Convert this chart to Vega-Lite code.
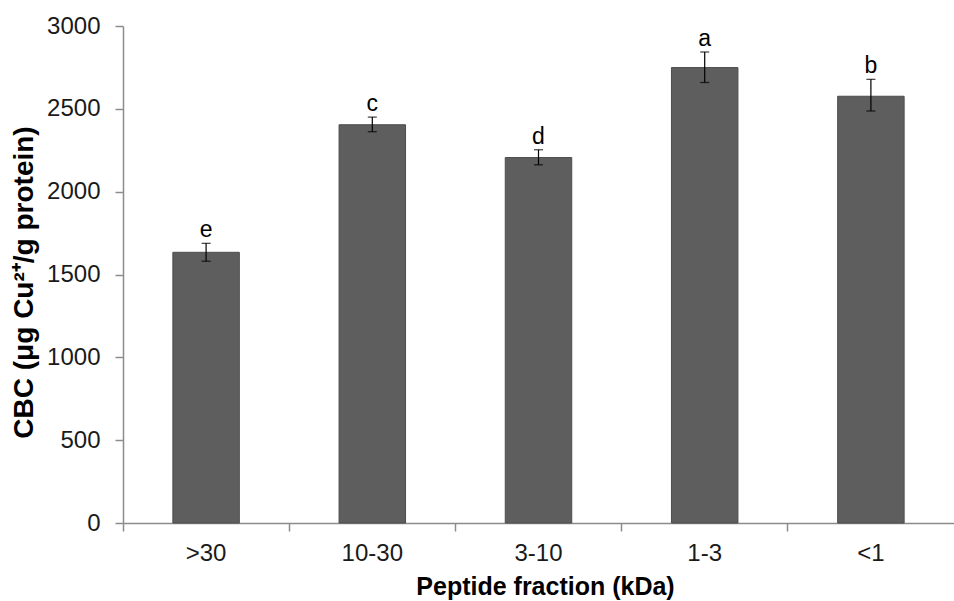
{
  "$schema": "https://vega.github.io/schema/vega-lite/v6.json",
  "autosize": {"type": "none"},
  "width": 831,
  "height": 497,
  "padding": {"left": 123, "top": 26, "right": 0, "bottom": 78},
  "background": "white",
  "config": {
    "view": {"stroke": null},
    "font": "Liberation Sans",
    "axis": {"grid": false, "domainColor": "#8c8c8c", "tickColor": "#8c8c8c", "domainWidth": 1.5, "tickWidth": 1.5, "labelColor": "#1a1a1a", "titleColor": "#000000", "labelFont": "Liberation Sans", "titleFont": "Liberation Sans"}
  },
  "data": {
    "values": [
      {"fraction": ">30", "cbc": 1634, "lo": 1580, "hi": 1688, "letter": "e"},
      {"fraction": "10-30", "cbc": 2404, "lo": 2362, "hi": 2450, "letter": "c"},
      {"fraction": "3-10", "cbc": 2206, "lo": 2162, "hi": 2253, "letter": "d"},
      {"fraction": "1-3", "cbc": 2749, "lo": 2659, "hi": 2843, "letter": "a"},
      {"fraction": "<1", "cbc": 2576, "lo": 2487, "hi": 2678, "letter": "b"}
    ]
  },
  "resolve": {"axis": {"x": "independent"}},
  "layer": [
    {
      "mark": {"type": "bar", "color": "#5e5e5e", "stroke": "#4d4d4d", "strokeWidth": 1},
      "encoding": {
        "x": {"field": "fraction", "type": "nominal", "sort": null,
          "scale": {"paddingInner": 0.6, "paddingOuter": 0.3},
          "axis": {"title": "Peptide fraction (kDa)", "labelAngle": 0, "labelFontSize": 24, "labelPadding": 18, "ticks": false,
            "titleFontSize": 25, "titleFontWeight": "bold", "titleX": 422, "titleY": 63, "titleBaseline": "middle", "titleAlign": "center"}},
        "y": {"field": "cbc", "type": "quantitative",
          "scale": {"domain": [0, 3000], "nice": false},
          "axis": {"title": "CBC (μg Cu²⁺/g protein)", "format": "d", "values": [0, 500, 1000, 1500, 2000, 2500, 3000], "tickSize": 8, "labelPadding": 15, "labelFontSize": 24,
            "titleFontSize": 28, "titleFontWeight": "bold", "titleAngle": -90, "titleX": -99, "titleY": 256, "titleBaseline": "middle", "titleAlign": "center"}}
      }
    },
    {
      "mark": {"type": "rule", "color": "#000000", "strokeWidth": 1.2},
      "encoding": {
        "x": {"field": "fraction", "type": "nominal", "sort": null, "axis": null},
        "y": {"field": "lo", "type": "quantitative"},
        "y2": {"field": "hi"}
      }
    },
    {
      "mark": {"type": "tick", "color": "#000000", "size": 9, "thickness": 1.3, "orient": "horizontal"},
      "encoding": {
        "x": {"field": "fraction", "type": "nominal", "sort": null, "axis": null},
        "y": {"field": "lo", "type": "quantitative"}}
    },
    {
      "mark": {"type": "tick", "color": "#000000", "size": 9, "thickness": 1.3, "orient": "horizontal"},
      "encoding": {
        "x": {"field": "fraction", "type": "nominal", "sort": null, "axis": null},
        "y": {"field": "hi", "type": "quantitative"}}
    },
    {
      "mark": {"type": "text", "baseline": "bottom", "dy": -1, "fontSize": 23, "color": "#000000"},
      "encoding": {
        "x": {"field": "fraction", "type": "nominal", "sort": null, "axis": null},
        "y": {"field": "hi", "type": "quantitative"},
        "text": {"field": "letter"}
      }
    },
    {
      "mark": {"type": "point", "opacity": 0},
      "encoding": {
        "x": {"field": "fraction", "type": "nominal", "sort": null,
          "axis": {"orient": "bottom", "bandPosition": -0.75, "labels": false, "title": null, "domain": false, "tickSize": 8}}
      }
    }
  ]
}
